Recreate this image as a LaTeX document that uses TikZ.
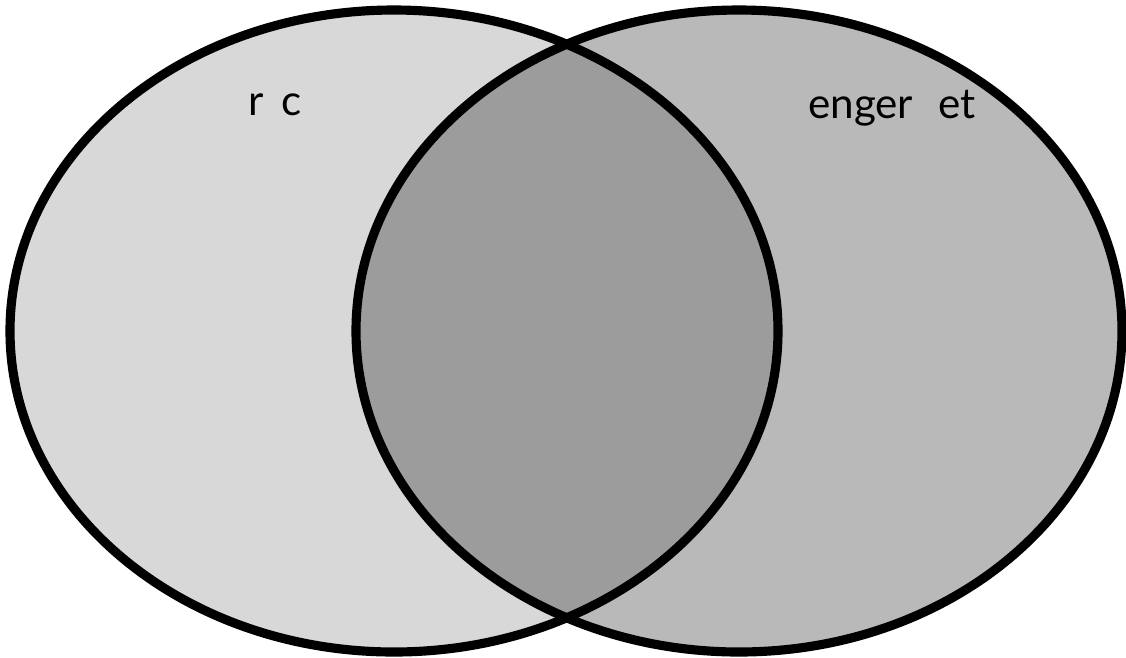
\documentclass[tikz,border=0pt]{standalone}
\usepackage{fontspec}
\setmainfont{Lato}
\begin{document}
\begin{tikzpicture}[x=0.02cm,y=-0.02cm,
  setline/.style={draw=black,line width=5.2pt},
  lbl/.style={font=\fontsize{24}{28}\selectfont,inner sep=0pt}]
\useasboundingbox (0,0) rectangle (1126,657);
\fill[fill={rgb,255:red,216;green,216;blue,216}] (394,331) ellipse [x radius=384,y radius=321];
\fill[fill={rgb,255:red,185;green,185;blue,185}] (739,331) ellipse [x radius=383,y radius=321];
\begin{scope}
  \clip (394,331) ellipse [x radius=384,y radius=321];
  \fill[fill={rgb,255:red,156;green,156;blue,156}] (739,331) ellipse [x radius=383,y radius=321];
\end{scope}
\draw[setline] (394,331) ellipse [x radius=384,y radius=321];
\draw[setline] (739,331) ellipse [x radius=383,y radius=321];
\node[lbl] (lefttext) at (275,105) {r\hspace{0.4em}c};
\node[lbl] (righttext) at (892,108) {enger\hspace{0.6em}et};
\end{tikzpicture}
\end{document}
